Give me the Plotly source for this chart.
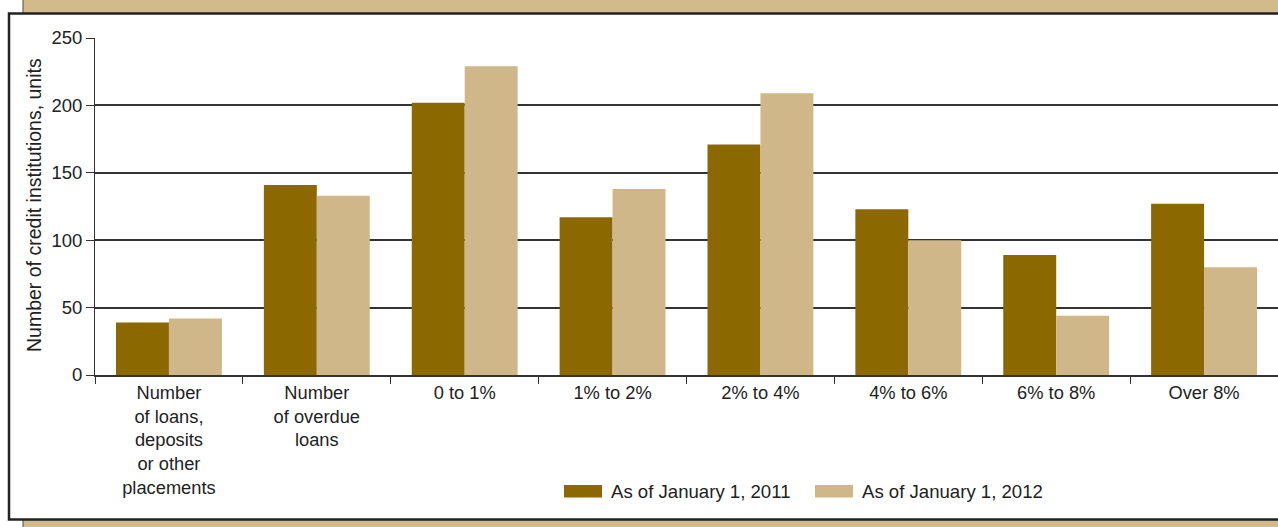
import plotly.graph_objects as go

categories = [
    "Number<br>of loans,<br>deposits<br>or other<br>placements",
    "Number<br>of overdue<br>loans",
    "0 to 1%", "1% to 2%", "2% to 4%", "4% to 6%", "6% to 8%", "Over 8%",
]
series_names = ["As of January 1, 2011", "As of January 1, 2012"]
values_2011 = [39, 141, 202, 117, 171, 123, 89, 127]
values_2012 = [42, 133, 229, 138, 209, 100, 44, 80]
y_title = "Number of credit institutions, units"

DARK = "#8B6800"
LIGHT = "#D0B789"
TAN = "#D2BA8A"
TXT = "#222222"
FONT = "Liberation Sans, Arial, sans-serif"

WIDTH, HEIGHT = 1278, 527
L, R, T, B = 95, 0, 38, 152
PW = WIDTH - L - R
PH = HEIGHT - T - B


def px(x):
    return (x - L) / PW


def py(y):
    return (HEIGHT - B - y) / PH


fig = go.Figure()
fig.add_trace(go.Bar(x=categories, y=values_2011, name=series_names[0],
                     marker=dict(color=DARK, line=dict(width=0)), showlegend=False))
fig.add_trace(go.Bar(x=categories, y=values_2012, name=series_names[1],
                     marker=dict(color=LIGHT, line=dict(width=0)), showlegend=False))

shapes = [
    # tan backdrop
    dict(type="rect", xref="paper", yref="paper", layer="below",
         x0=px(23), x1=px(1300), y0=py(-10), y1=py(540),
         fillcolor=TAN, line=dict(color="#5a4a2a", width=1)),
    # white panel
    dict(type="rect", xref="paper", yref="paper", layer="below",
         x0=px(9), x1=px(1300), y0=py(13.5), y1=py(519.5),
         fillcolor="white", line=dict(color="#222222", width=2.5)),
]

annotations = [
    dict(text=y_title, xref="paper", yref="paper", x=px(34), y=py(205),
         textangle=-90, showarrow=False, xanchor="center", yanchor="middle",
         font=dict(family=FONT, size=19.5, color=TXT)),
]

# custom legend with wide swatches
legend_items = [
    (series_names[0], DARK, 564, 602, 609),
    (series_names[1], LIGHT, 815, 853, 860),
]
for name, col, sx0, sx1, tx in legend_items:
    shapes.append(dict(type="rect", xref="paper", yref="paper",
                       x0=px(sx0), x1=px(sx1), y0=py(485), y1=py(497.5),
                       fillcolor=col, line=dict(width=0)))
    annotations.append(dict(text=name, xref="paper", yref="paper",
                            x=px(tx), y=py(491.5), showarrow=False,
                            xanchor="left", yanchor="middle",
                            font=dict(family=FONT, size=18.6, color=TXT)))

fig.update_layout(
    width=WIDTH, height=HEIGHT,
    margin=dict(l=L, r=R, t=T, b=B, pad=0),
    paper_bgcolor="white",
    plot_bgcolor="rgba(0,0,0,0)",
    barmode="group",
    bargap=0.284,
    bargroupgap=0,
    showlegend=False,
    font=dict(family=FONT, size=18, color=TXT),
    shapes=shapes,
    annotations=annotations,
    xaxis=dict(
        showline=True, linecolor="#333333", linewidth=1.5,
        ticks="outside", tickson="boundaries", ticklen=7,
        tickcolor="#333333", tickwidth=1,
        showgrid=False, zeroline=False,
        tickangle=0, fixedrange=True,
        tickfont=dict(family=FONT, size=18.3, color=TXT),
    ),
    yaxis=dict(
        range=[0, 250], dtick=50, tick0=0,
        showline=True, linecolor="#333333", linewidth=1,
        ticks="outside", ticklen=8, tickcolor="#333333", tickwidth=1,
        showgrid=True, gridcolor="#333333", gridwidth=1.6,
        zeroline=False, fixedrange=True,
        tickfont=dict(family=FONT, size=18.5, color=TXT),
    ),
)

fig.write_html("out.html")
